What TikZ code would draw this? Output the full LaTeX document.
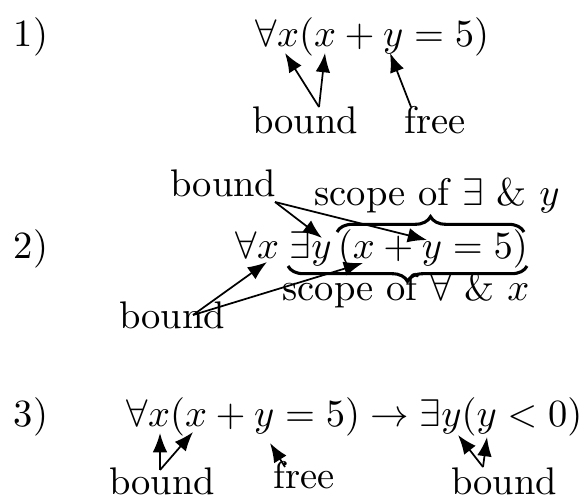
\documentclass[tikz,border=0pt]{standalone}
\usetikzlibrary{arrows.meta,decorations.pathreplacing}
\begin{document}
\begin{tikzpicture}[x=0.2597pt,y=-0.2597pt,
  txt/.style={inner sep=0pt,anchor=base west},
  lbl/.style={inner sep=0pt,anchor=base},
  arr/.style={line width=0.45pt,-{Latex[length=5pt,width=3.8pt]}},
  brc/.style={decorate,decoration={brace,amplitude=4pt},line width=0.8pt}]
\useasboundingbox (0,0) rectangle (581,496);
% Row 1
\node[txt] (n1) at (13,47) {1)};
\node[txt] (f1) at (255,47) {$\forall x(x+y=5)$};
\node[lbl] (b1) at (305,134) {bound};
\node[lbl] (fr1) at (435,134) {free};
\coordinate (b1o) at (319,107);
\coordinate (fr1o) at (411,107);
\coordinate (t1a) at (285,53);
\coordinate (t1b) at (325,53);
\coordinate (t1c) at (390,53);
\draw[arr] (b1o) -- (t1a);
\draw[arr] (b1o) -- (t1b);
\draw[arr] (fr1o) -- (t1c);
% Row 2
\node[txt] (n2) at (13,258) {2)};
\node[txt] (f2) at (235,258) {$\forall x\;\exists y\,(x+y=5)$};
\coordinate (br1s) at (337,232);
\coordinate (br1e) at (524,232);
\coordinate (br2s) at (527,266);
\coordinate (br2e) at (288,266);
\draw[brc] (br1s) -- (br1e);
\draw[brc] (br2s) -- (br2e);
\node[lbl] (s1) at (437,205) {scope of $\exists$ \& $y$};
\node[lbl] (s2) at (406,300) {scope of $\forall$ \& $x$};
\node[inner sep=0pt,anchor=base east] (b2) at (277,197) {bound};
\node[lbl] (b3) at (172,328) {bound};
\coordinate (b2o) at (275,202);
\coordinate (b3o) at (193,315);
\coordinate (t2a) at (322,238);
\coordinate (t2b) at (427,240);
\coordinate (t2c) at (267,262);
\coordinate (t2d) at (363,263);
\draw[arr] (b2o) -- (t2a);
\draw[arr] (b2o) -- (t2b);
\draw[arr] (b3o) -- (t2c);
\draw[arr] (b3o) -- (t2d);
% Row 3
\node[txt] (n3) at (13,426) {3)};
\node[txt] (f3) at (126,426) {$\forall x(x+y=5)\to\exists y(y<0)$};
\node[lbl] (b4) at (162,494) {bound};
\node[lbl] (fr2) at (304,488) {free};
\node[lbl] (b5) at (504,494) {bound};
\coordinate (b4o) at (160,470);
\coordinate (fr2o) at (285,467);
\coordinate (b5o) at (483,467);
\coordinate (t3a) at (160,433);
\coordinate (t3b) at (193,432);
\coordinate (t3c) at (270,443);
\coordinate (t3d) at (458,435);
\coordinate (t3e) at (487,437);
\draw[arr] (b4o) -- (t3a);
\draw[arr] (b4o) -- (t3b);
\draw[arr] (fr2o) -- (t3c);
\draw[arr] (b5o) -- (t3d);
\draw[arr] (b5o) -- (t3e);
\end{tikzpicture}
\end{document}
